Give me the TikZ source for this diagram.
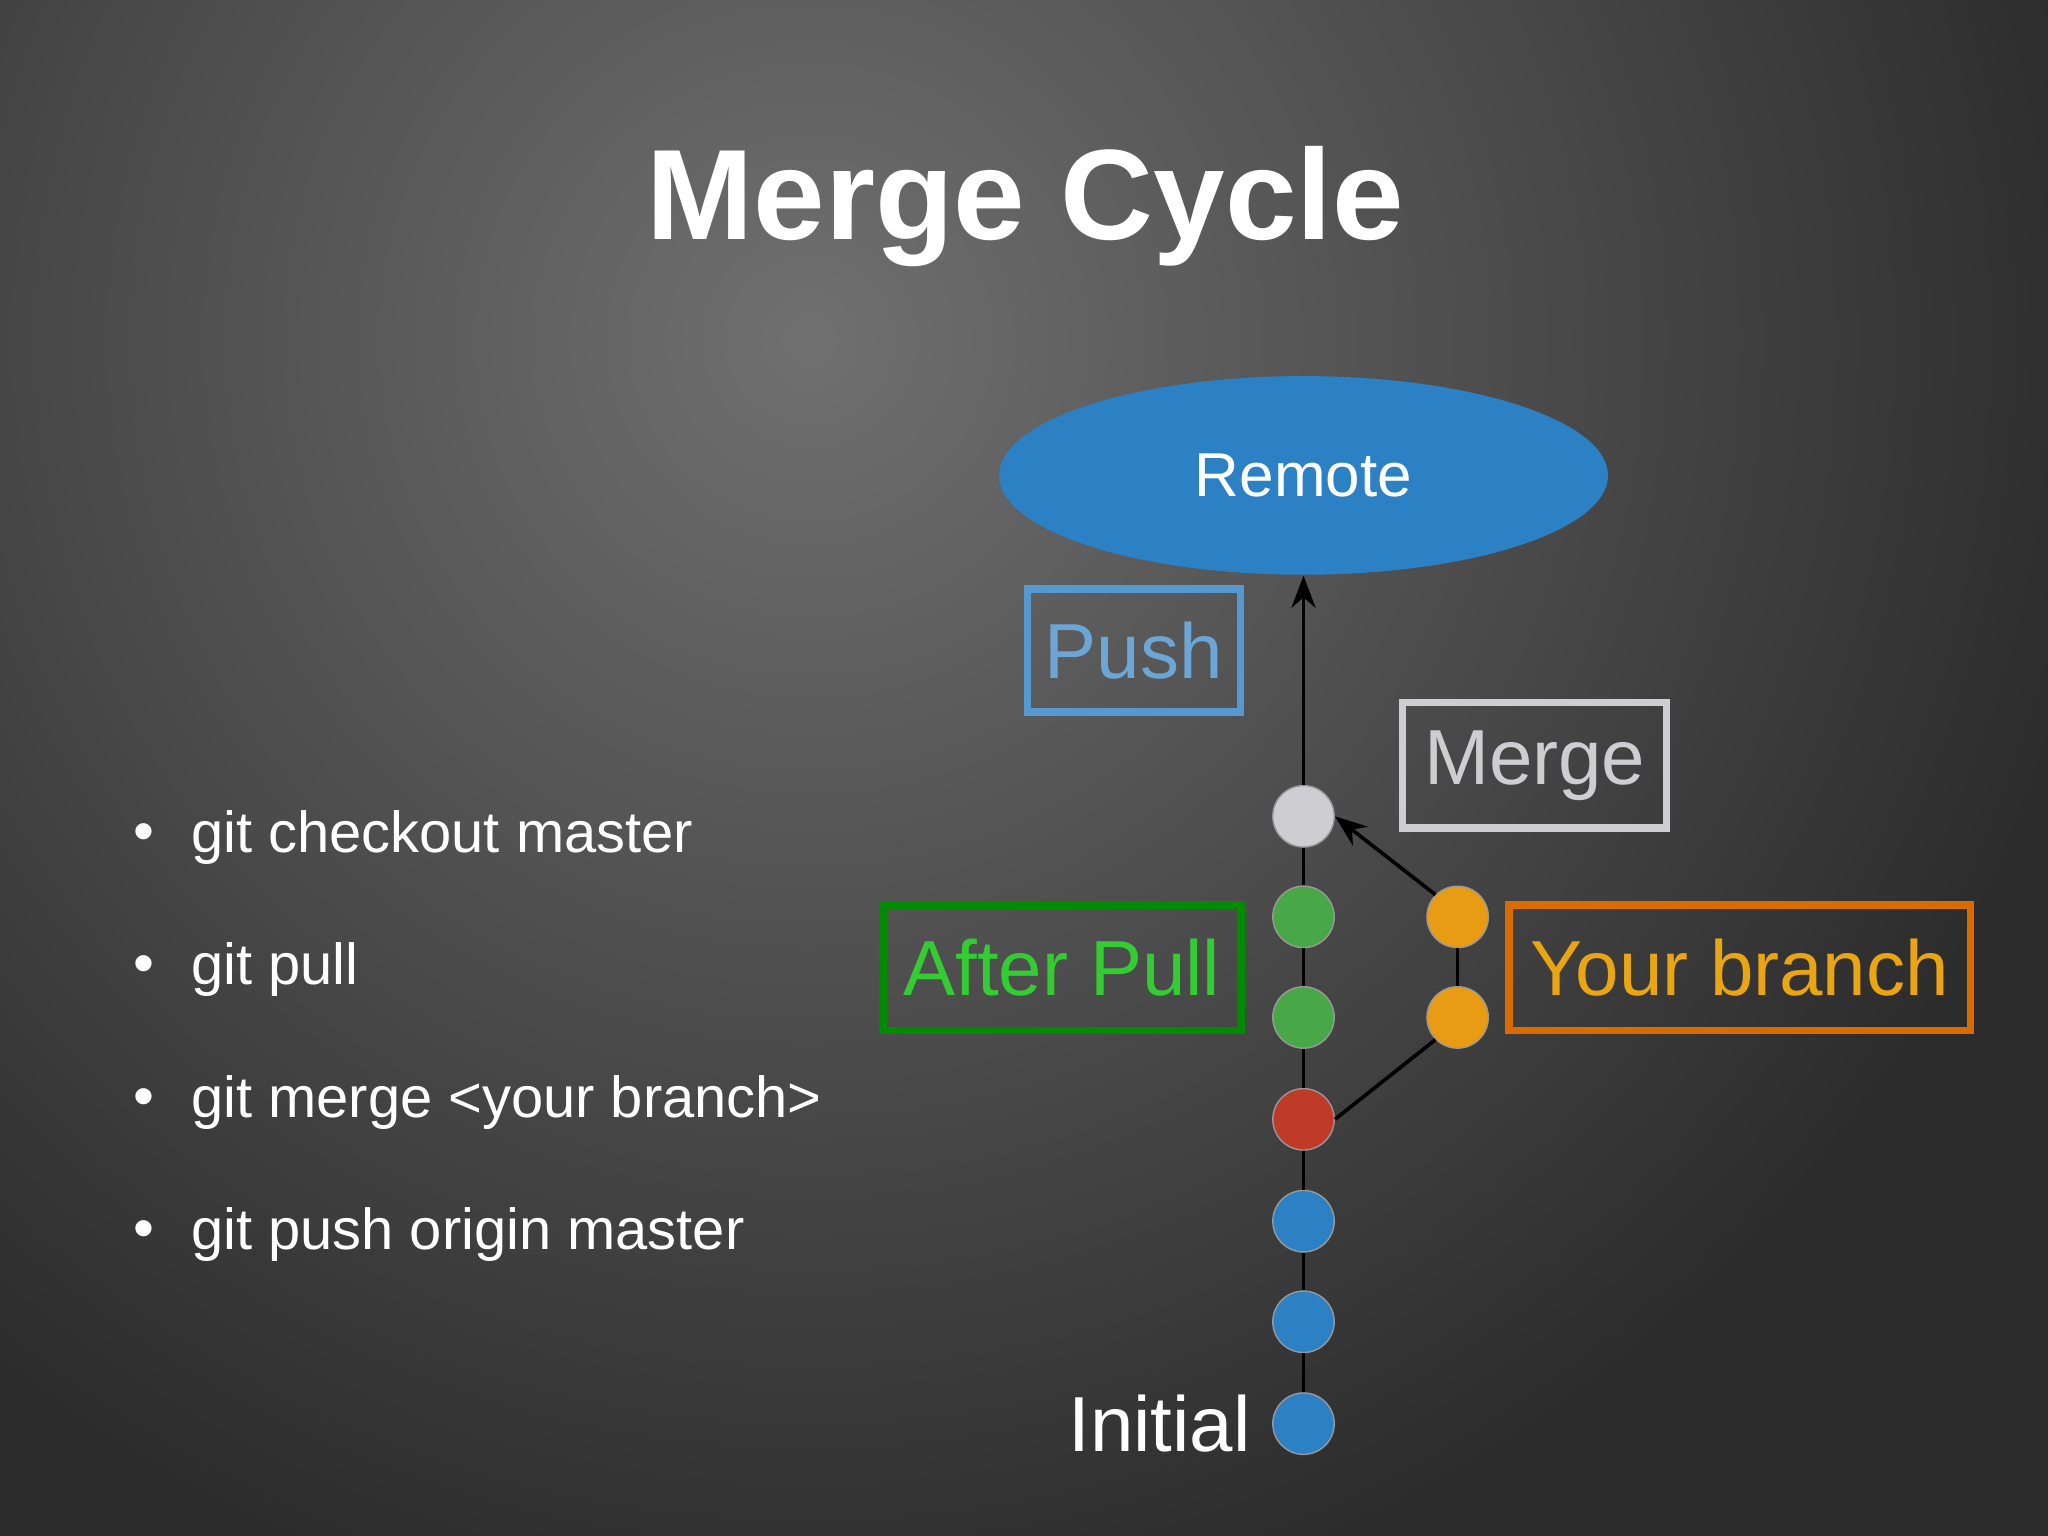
\documentclass[tikz,border=0pt]{standalone}
\usepackage{fontspec}
\setmainfont{Liberation Sans}
\usetikzlibrary{shapes.geometric,arrows.meta}
\definecolor{bgc}{RGB}{44,44,44}
\definecolor{bgl}{RGB}{112,112,112}
\definecolor{cblue}{RGB}{44,128,196}
\definecolor{cgreen}{RGB}{72,168,72}
\definecolor{cred}{RGB}{192,58,40}
\definecolor{corange}{RGB}{232,156,20}
\definecolor{cwhite}{RGB}{205,205,210}
\begin{document}
\begin{tikzpicture}[x=0.01cm,y=-0.01cm,
  commit/.style={circle,minimum size=0.47cm,inner sep=0pt,draw=black!40,line width=0.3pt},
  link/.style={black,line width=0.8pt},
  lbl/.style={draw,line width=1.6pt,inner sep=0pt,font=\fontsize{17}{17}\selectfont},
  bullet/.style={anchor=west,text=white,font=\fontsize{12.6}{13}\selectfont}]
\useasboundingbox (0,0) rectangle (1568,1176);
\fill[bgc] (0,0) rectangle (1568,1176);
\begin{scope}
\clip (0,0) rectangle (1568,1176);
\shade[inner color=bgl,outer color=bgc] (620,260) circle (10cm);
\end{scope}
\node[text=white,font=\fontsize{28}{28}\selectfont\bfseries] (title) at (785,158) {Merge Cycle};
\node[ellipse,fill=cblue,minimum width=4.66cm,minimum height=1.52cm,text=white,font=\fontsize{13.5}{14}\selectfont] (remote) at (998,364) {Remote};
\node[commit,fill=cwhite] (w) at (998,625) {};
\node[commit,fill=cgreen] (g1) at (998,702) {};
\node[commit,fill=cgreen] (g2) at (998,779) {};
\node[commit,fill=cred] (r) at (998,857) {};
\node[commit,fill=cblue] (b1) at (998,935) {};
\node[commit,fill=cblue] (b2) at (998,1012) {};
\node[commit,fill=cblue] (b3) at (998,1090) {};
\node[commit,fill=corange] (o1) at (1116,702) {};
\node[commit,fill=corange] (o2) at (1116,779) {};
\foreach \a/\b in {w/g1,g1/g2,g2/r,r/b1,b1/b2,b2/b3,o1/o2}
  \draw[link] (\a) -- (\b);
\draw[link,-{Stealth[length=7pt]}] (w) -- (remote.south);
\draw[link,-{Stealth[length=7pt]}] (o1.north west) -- (w.east);
\draw[link] (r.east) -- (o2.south west);
\node[lbl,draw=cblue!80,text=cblue!70!white,minimum width=1.63cm,minimum height=0.94cm] (push) at (868,498) {Push};
\node[lbl,draw=cwhite,text=cwhite,minimum width=2.02cm,minimum height=0.96cm] (merge) at (1175,586) {Merge};
\node[lbl,draw=green!55!black,text=green!75!black!80!white,minimum width=2.74cm,minimum height=0.96cm] (after) at (813,741) {After Pull};
\node[lbl,draw=orange!85!black,text=corange!90!yellow,minimum width=3.53cm,minimum height=0.96cm] (yb) at (1332,741) {Your branch};
\node[anchor=east,text=white,font=\fontsize{17}{18}\selectfont] (init) at (970,1090) {Initial};
\foreach \y/\t/\n in {641/git checkout master/l1,742/git pull/l2,844/git merge <your branch>/l3,945/git push origin master/l4}{
  \node[bullet] (\n) at (134,\y) {\t};
  \node[text=white,font=\fontsize{13}{13}\selectfont] (\n b) at (110,\y) {•};
}
\end{tikzpicture}
\end{document}
